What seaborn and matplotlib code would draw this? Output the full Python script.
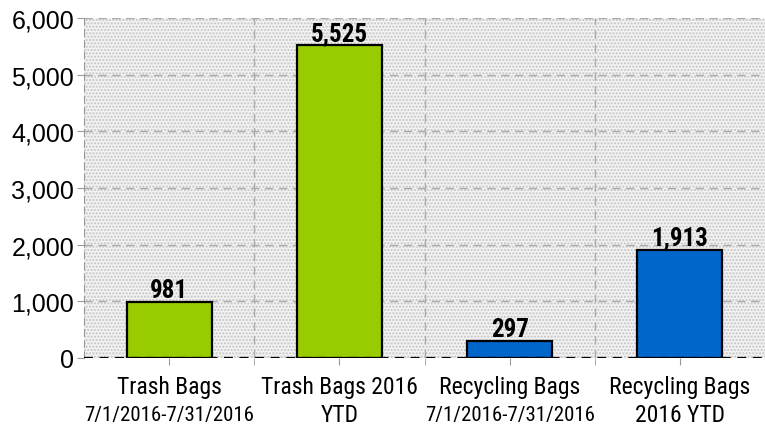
import matplotlib
matplotlib.use('Agg')
import matplotlib.pyplot as plt
import seaborn as sns
import pandas as pd
from matplotlib.patches import Rectangle
from matplotlib.ticker import FuncFormatter

# data
categories = ['Trash Bags\n7/1/2016-7/31/2016', 'Trash Bags 2016\nYTD',
              'Recycling Bags\n7/1/2016-7/31/2016', 'Recycling Bags\n2016 YTD']
label_top = ['Trash Bags', 'Trash Bags 2016', 'Recycling Bags', 'Recycling Bags']
label_bottom = ['7/1/2016-7/31/2016', 'YTD', '7/1/2016-7/31/2016', '2016 YTD']
small_bottom = [True, False, True, False]
bags = [981, 5525, 297, 1913]
colors = ['#99cc00', '#99cc00', '#0066cc', '#0066cc']

df = pd.DataFrame({'cat': categories, 'bags': bags})

sns.set_style('white')
narrow = ['Roboto Condensed', 'Archivo Narrow', 'Liberation Sans Narrow', 'DejaVu Sans']
plt.rcParams['font.family'] = narrow
plt.rcParams['text.color'] = 'black'
plt.rcParams['xtick.color'] = 'black'
plt.rcParams['ytick.color'] = 'black'

fig = plt.figure(figsize=(7.65, 4.31), dpi=100)
ax = fig.add_axes([84 / 765, 1 - 359 / 431, 1 - 84 / 765, 340 / 431])

# dotted gray background
ax.set_facecolor('#f2f2f2')
ax.add_patch(Rectangle((0, 0), 1, 1, transform=ax.transAxes, facecolor='none',
                       hatch='.....', edgecolor='#c4c4c4', lw=0, zorder=0))

sns.barplot(data=df, x='cat', y='bags', hue='cat', palette=colors, legend=False,
            width=0.5, edgecolor='black', linewidth=1.6, saturation=1, ax=ax, zorder=3)

ax.set_xlim(-0.5, 3.5)
ax.set_ylim(0, 6000)
ax.set_yticks(range(0, 6001, 1000))
ax.yaxis.set_major_formatter(FuncFormatter(lambda v, p: f'{v:,.0f}'))
ax.set_xticks(range(4))
ax.set_xticks([0.5, 1.5, 2.5], minor=True)
ax.set_xticklabels([''] * 4)
ax.tick_params(axis='both', which='both', direction='out', length=5, color='#999999',
               left=True, bottom=True, pad=2, labelcolor='black')
for t in ax.get_yticklabels():
    t.set_fontfamily(['Liberation Sans', 'DejaVu Sans'])
    t.set_fontsize(18)

ax.grid(axis='y', which='major', color='#aaaaaa', linestyle=(0, (6, 4)), lw=1, zorder=1)
ax.grid(axis='x', which='minor', color='#aaaaaa', linestyle=(0, (6, 4)), lw=1, zorder=1)
ax.set_axisbelow(True)

for s in ['top', 'right']:
    ax.spines[s].set_visible(False)
ax.spines['left'].set_color('#999999')
ax.spines['left'].set_linestyle((0, (6, 4)))
ax.spines['bottom'].set_visible(False)
ax.axhline(0, color='black', lw=1.6, linestyle=(0, (4, 3)), zorder=4)

for cont in ax.containers:
    ax.bar_label(cont, fmt='{:,.0f}', padding=0, fontsize=18, fontweight='bold', color='black')

for i in range(4):
    ax.annotate(label_top[i], xy=(i, 0), xycoords=('data', 'axes fraction'),
                xytext=(0, -29), textcoords='offset pixels', ha='center', va='center',
                fontsize=17, color='black')
    ax.annotate(label_bottom[i], xy=(i, 0), xycoords=('data', 'axes fraction'),
                xytext=(0, -57), textcoords='offset pixels', ha='center', va='center',
                fontsize=15 if small_bottom[i] else 17, color='black')

ax.set_xlabel('')
ax.set_ylabel('')

fig.savefig('out.png', dpi=100)
